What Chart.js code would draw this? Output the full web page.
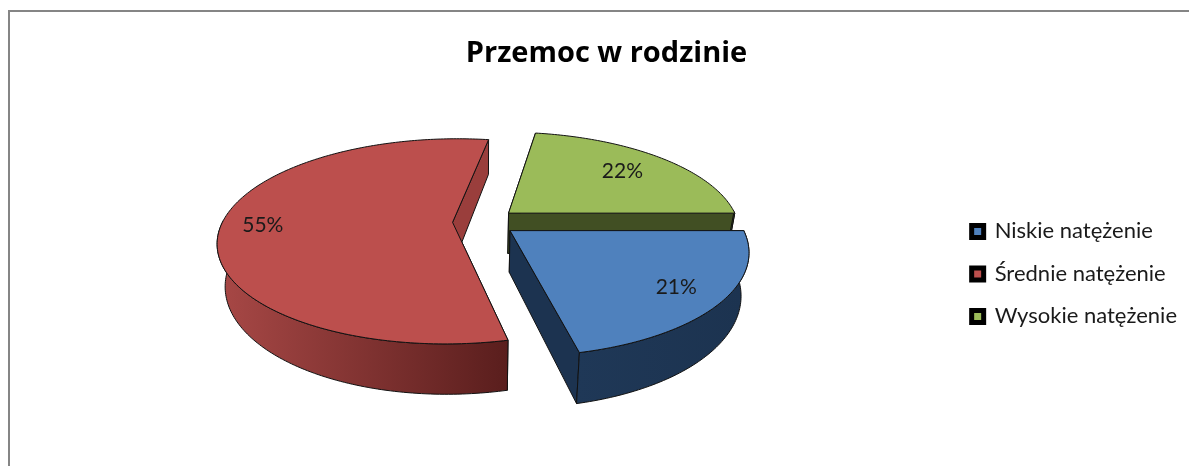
<!DOCTYPE html>
<html>
<head>
<meta charset="utf-8">
<script src="https://cdn.jsdelivr.net/npm/chart.js@4"></script>
<style>
    html, body { margin: 0; padding: 0; background: #fff; overflow: hidden; }
    #wrap { position: relative; width: 1189px; height: 466px; }
    #frame { position: absolute; left: 8px; top: 10px; right: 0; bottom: 0; border-top: 2px solid #858585; border-left: 2px solid #858585; }
    #chart { position: absolute; left: 0; top: 0; }
</style>
</head>
<body>
<div id="wrap">
    <div id="frame"></div>
    <canvas id="chart" width="1189" height="466"></canvas>
</div>
<script>
const chartTitle = 'Przemoc w rodzinie';
const categories = ['Niskie natężenie', 'Średnie natężenie', 'Wysokie natężenie'];
const percentValues = [21, 55, 22];

const topColors = ['#4f81bd', '#bc4f4d', '#9bbb59'];
const wallFrom = ['#1f3857', '#a64745', '#414f23'];
const wallTo = ['#1c3350', '#5a1e1d', '#414f23'];
const edgeColors = ['#1c3350', '#9a3e3c', '#414f23'];
const labelRadius = [0.81, 0.82, 0.73];

// camera for the tilted pie, the library only draws flat arcs
const view = { shiftX: -4, shiftY: -52, tilt: 0.43, persp: 0.185, depth: 41, shrink: 0.03 };

const pie3d = {
    id: 'pie3d',
    beforeDatasetDraw: function () {
        return false;
    },
    afterDatasetsDraw: function (chart) {
        const ctx = chart.ctx;
        const arcs = chart.getDatasetMeta(0).data;

        function project(px, py, level) {
            const v = py / arcs[0].outerRadius;
            const s = 1 / (1 - view.persp * v);
            return {
                x: arcs[0].x + view.shiftX + px * s * (1 - view.shrink * level),
                y: arcs[0].y + view.shiftY + py * view.tilt * s + level * view.depth * s
            };
        }

        function slicePoints(arc) {
            const mid = (arc.startAngle + arc.endAngle) / 2;
            const ox = Math.cos(mid) * arc.options.offset;
            const oy = Math.sin(mid) * arc.options.offset;
            const rim = [];
            const steps = Math.ceil((arc.endAngle - arc.startAngle) * 60);
            for (let i = 0; i <= steps; i++) {
                const a = arc.startAngle + (arc.endAngle - arc.startAngle) * i / steps;
                rim.push({ x: ox + Math.cos(a) * arc.outerRadius, y: oy + Math.sin(a) * arc.outerRadius, front: Math.sin(a) > -0.02 });
            }
            return { apex: { x: ox, y: oy }, rim: rim };
        }

        function fillPath(points, fill) {
            ctx.beginPath();
            points.forEach(function (p, i) {
                if (i === 0) ctx.moveTo(p.x, p.y);
                else ctx.lineTo(p.x, p.y);
            });
            ctx.closePath();
            ctx.fillStyle = fill;
            ctx.fill();
            ctx.lineWidth = 1;
            ctx.strokeStyle = '#111';
            ctx.stroke();
        }

        function radialWall(apex, end, fill) {
            fillPath([
                project(apex.x, apex.y, 0), project(end.x, end.y, 0),
                project(end.x, end.y, 1), project(apex.x, apex.y, 1)
            ], fill);
        }

        // back to front: green, red, blue
        [2, 1, 0].forEach(function (i) {
            const pts = slicePoints(arcs[i]);
            const rim = pts.rim;
            radialWall(pts.apex, rim[0], edgeColors[i]);
            radialWall(pts.apex, rim[rim.length - 1], edgeColors[i]);

            const frontRim = rim.filter(function (p) { return p.front; });
            if (frontRim.length) {
                const low = frontRim.map(function (p) { return project(p.x, p.y, 1); });
                const high = frontRim.map(function (p) { return project(p.x, p.y, 0); });
                const xs = low.map(function (p) { return p.x; });
                const grad = ctx.createLinearGradient(Math.min.apply(null, xs), 0, Math.max.apply(null, xs), 0);
                grad.addColorStop(0, wallFrom[i]);
                grad.addColorStop(1, wallTo[i]);
                fillPath(high.concat(low.reverse()), grad);
            }
            const top = rim.map(function (p) { return project(p.x, p.y, 0); });
            fillPath([project(pts.apex.x, pts.apex.y, 0)].concat(top), topColors[i]);
        });

        ctx.font = '21px Lato';
        ctx.fillStyle = '#1a1a1a';
        ctx.textAlign = 'center';
        ctx.textBaseline = 'middle';
        arcs.forEach(function (arc, i) {
            const mid = (arc.startAngle + arc.endAngle) / 2;
            const r = arc.outerRadius * labelRadius[i] + arc.options.offset;
            const p = project(Math.cos(mid) * r, Math.sin(mid) * r, 0);
            ctx.fillText(percentValues[i] + '%', p.x, p.y);
        });
    }
};

new Chart(document.getElementById('chart'), {
    type: 'pie',
    data: {
        labels: categories,
        datasets: [{
            data: percentValues,
            backgroundColor: topColors,
            offset: 32,
            radius: 230
        }]
    },
    options: {
        responsive: false,
        animation: false,
        rotation: 90,
        layout: { padding: { left: 26, right: 2, top: 20, bottom: 0 } },
        plugins: {
            tooltip: { enabled: false },
            title: {
                display: true,
                text: chartTitle,
                color: '#000',
                font: { family: 'Open Sans', size: 29, weight: 'bold' },
                padding: { top: 16, bottom: 11 }
            },
            legend: {
                position: 'right',
                fullSize: false,
                labels: {
                    color: '#1a1a1a',
                    font: { family: 'Lato', size: 22 },
                    boxWidth: 12,
                    boxHeight: 12,
                    padding: 20.5,
                    generateLabels: function (chart) {
                        return Chart.overrides.pie.plugins.legend.labels.generateLabels(chart).map(function (item) {
                            item.strokeStyle = '#000';
                            item.lineWidth = 5;
                            return item;
                        });
                    }
                }
            }
        }
    },
    plugins: [pie3d]
});
</script>
</body>
</html>
